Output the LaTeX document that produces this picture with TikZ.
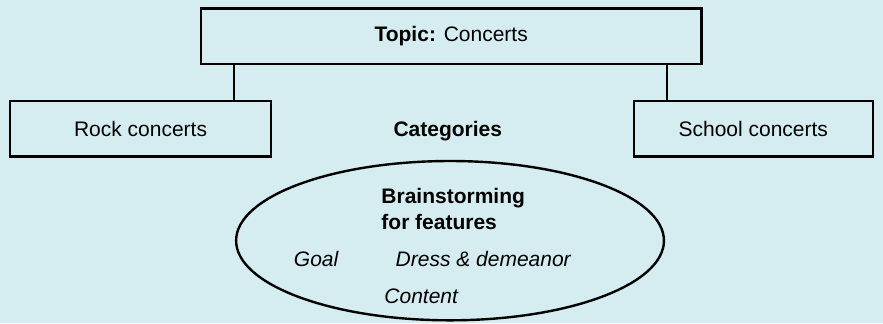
\documentclass[tikz,border=0pt]{standalone}
\usepackage{fontspec}
\setmainfont{Liberation Sans}
\usepackage{tikz}
\usetikzlibrary{shapes.geometric}
\definecolor{bgblue}{RGB}{213,237,241}
\tikzstyle{topicbox} = [rectangle, minimum width=8.8cm, minimum height=0.98cm, text centered, draw=black, line width=1.2pt]
\tikzstyle{catbox} = [rectangle, minimum height=0.98cm, text centered, draw=black, line width=1.2pt]
\tikzstyle{brainstorm} = [ellipse, minimum width=7.52cm, minimum height=2.8cm, draw=black, line width=1.2pt]
\tikzstyle{line} = [line width=1.2pt]

\begin{document}
\begin{tikzpicture}[font=\fontsize{10.5}{13}\selectfont]

\fill[bgblue] (0,0) rectangle (15.52,5.68);
\useasboundingbox (0,0) rectangle (15.52,5.68);

\node (topic) [topicbox] at (7.93,5.04) {\textbf{Topic:} Concerts};
\node (rock) [catbox, minimum width=4.59cm] at (2.47,3.42) {Rock concerts};
\node (school) [catbox, minimum width=4.2cm] at (13.24,3.42) {School concerts};
\node (cat) at (7.87,3.38) {\textbf{Categories}};
\node (brain) [brainstorm] at (7.91,1.45) {};
\node (feat) [anchor=west, align=left, font=\fontsize{10.5}{13}\selectfont\bfseries] at (6.58,2.0) {Brainstorming\\for features};
\node (goal) at (5.56,1.12) {\textit{Goal}};
\node (dress) at (8.5,1.12) {\textit{Dress \& demeanor}};
\node (content) at (7.41,0.47) {\textit{Content}};

\draw [line] ([xshift=-0.67cm]rock.north east) -- ([xshift=-0.67cm]rock.north east |- topic.south);
\draw [line] ([xshift=0.6cm]school.north west) -- ([xshift=0.6cm]school.north west |- topic.south);

\end{tikzpicture}
\end{document}
